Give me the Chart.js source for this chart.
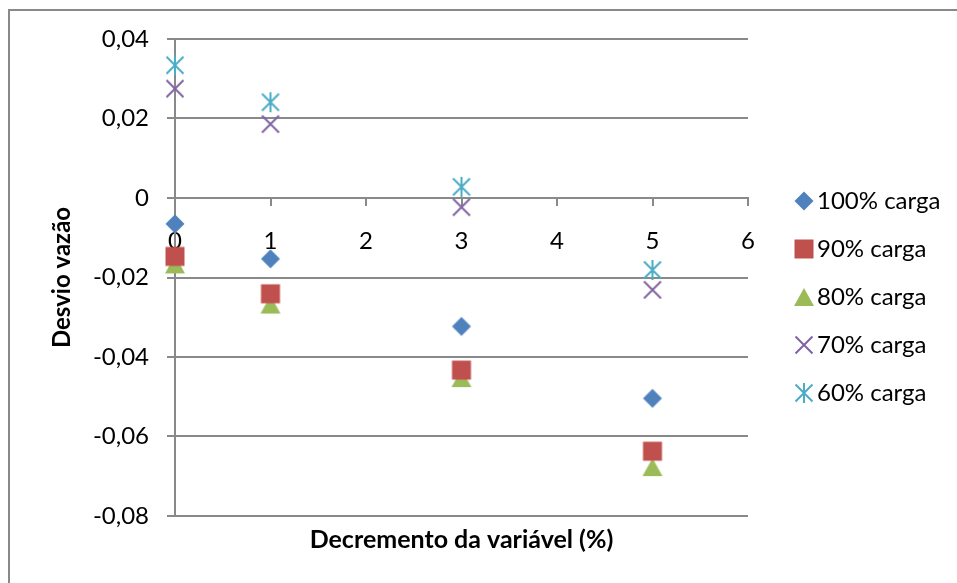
<!DOCTYPE html>
<html>
<head>
<meta charset="utf-8">
<script src="https://cdn.jsdelivr.net/npm/chart.js@4.4.1/dist/chart.umd.min.js"></script>
<style>
  html, body { margin: 0; padding: 0; background: #fff; }
  #wrap { position: relative; width: 957px; height: 583px; overflow: hidden; }
  #frame { position: absolute; left: 8px; top: 9px; width: 1000px; height: 1000px;
           border-left: 2px solid #898989; border-top: 2px solid #898989; pointer-events: none; }
  canvas { display: block; }
</style>
</head>
<body>
<div id="wrap">
  <canvas id="chart" width="957" height="583"></canvas>
  <div id="frame"></div>
</div>
<script>
// Decremento da variável (%) on the x axis
const decremento = [0, 1, 3, 5];

// Desvio de vazão por nível de carga
const carga100 = [-0.0065, -0.0153, -0.0323, -0.0504];
const carga90  = [-0.0147, -0.0241, -0.0433, -0.0637];
const carga80  = [-0.0167, -0.0268, -0.0453, -0.0677];
const carga70  = [0.0275, 0.0186, -0.0023, -0.0231];
const carga60  = [0.0334, 0.0241, 0.0028, -0.0181];

const seriesNames = ['100% carga', '90% carga', '80% carga', '70% carga', '60% carga'];

const xTicks = { min: 0, max: 6, step: 1 };
const yTicks = { min: -0.08, max: 0.04, step: 0.02 };

const FONT = 'Lato';

// Marker glyphs in the classic office palette
function marker(kind, color) {
  const s = 22, c = document.createElement('canvas');
  c.width = s; c.height = s;
  const g = c.getContext('2d');
  g.fillStyle = color; g.strokeStyle = color; g.lineWidth = 2;
  g.beginPath();
  if (kind === 'diamond') {
    g.moveTo(11, 1.5); g.lineTo(20.5, 11); g.lineTo(11, 20.5); g.lineTo(1.5, 11); g.closePath(); g.fill();
  } else if (kind === 'square') {
    g.rect(1.5, 1.5, 19, 19); g.fill();
  } else if (kind === 'triangle') {
    g.moveTo(11, 2); g.lineTo(21, 20); g.lineTo(1, 20); g.closePath(); g.fill();
  } else if (kind === 'x') {
    g.moveTo(2.5, 2.5); g.lineTo(19.5, 19.5); g.moveTo(19.5, 2.5); g.lineTo(2.5, 19.5); g.stroke();
  } else if (kind === 'star') {
    g.moveTo(2.5, 2.5); g.lineTo(19.5, 19.5); g.moveTo(19.5, 2.5); g.lineTo(2.5, 19.5);
    g.moveTo(11, 1); g.lineTo(11, 21); g.stroke();
  }
  return c;
}

const styles = [
  ['diamond', '#4F81BD'],
  ['square', '#C0504D'],
  ['triangle', '#9BBB59'],
  ['x', '#8064A2'],
  ['star', '#4BACC6']
];

const seriesValues = [carga100, carga90, carga80, carga70, carga60];

const datasets = seriesValues.map((vals, i) => ({
  label: seriesNames[i],
  data: decremento.map((x, j) => ({ x: x, y: vals[j] })),
  pointStyle: marker(styles[i][0], styles[i][1]),
  backgroundColor: styles[i][1],
  borderColor: styles[i][1],
  showLine: false,
  clip: false,
  xAxisID: 'x',
  yAxisID: 'y'
}));

const axisGray = '#898989';

function fmt(v) {
  if (Math.abs(v) < 1e-9) return '0';
  return v.toFixed(2).replace('.', ',');
}

// Give the legend box a fixed width so its labels sit at a steady column
const LEGEND_WIDTH = 178;
const legendWidthPlugin = {
  id: 'legendWidth',
  afterInit(chart) {
    const lg = chart.legend;
    if (!lg) return;
    const fit = lg.fit;
    lg.fit = function () {
      fit.call(this);
      this.width = LEGEND_WIDTH;
    };
  }
};

new Chart(document.getElementById('chart'), {
  type: 'scatter',
  data: { datasets: datasets },
  plugins: [legendWidthPlugin],
  options: {
    responsive: false,
    animation: false,
    devicePixelRatio: 1,
    layout: { padding: { left: 40, top: 39, right: 0, bottom: 28 } },
    plugins: {
      tooltip: { enabled: false },
      legend: {
        position: 'right',
        align: 'center',
        labels: {
          usePointStyle: true,
          boxWidth: 2,
          boxHeight: 24,
          padding: 24,
          color: '#000',
          font: { family: FONT, size: 24 }
        }
      }
    },
    scales: {
      x: {
        type: 'linear',
        position: 'bottom',
        min: xTicks.min, max: xTicks.max,
        ticks: { display: false },
        grid: { display: false },
        border: { display: false },
        title: {
          display: true,
          text: 'Decremento da variável (%)',
          color: '#000',
          font: { family: FONT, size: 25, weight: 'bold' },
          padding: { top: 0, bottom: 0 }
        },
        afterFit: s => { s.height = 39; }
      },
      xZero: {
        type: 'linear',
        axis: 'x',
        position: { y: 0 },
        min: xTicks.min, max: xTicks.max,
        ticks: { stepSize: xTicks.step, padding: 22, color: '#000', font: { family: FONT, size: 24 } },
        grid: { drawOnChartArea: false, drawTicks: true, tickLength: 7, color: axisGray, lineWidth: 2 },
        border: { display: true, color: axisGray, width: 2 }
      },
      y: {
        type: 'linear',
        position: 'left',
        min: yTicks.min, max: yTicks.max,
        ticks: { stepSize: yTicks.step, padding: 18, color: '#000', font: { family: FONT, size: 24 }, callback: v => fmt(v) },
        grid: { color: axisGray, lineWidth: 2, tickLength: 8 },
        border: { display: true, color: axisGray, width: 2 },
        title: {
          display: true,
          text: 'Desvio vazão',
          color: '#000',
          font: { family: FONT, size: 24, weight: 'bold' },
          padding: { top: 8, bottom: 0 }
        },
        afterFit: s => { s.width = 135; }
      },
      yGap: {
        type: 'linear',
        axis: 'y',
        position: 'right',
        ticks: { display: false },
        grid: { display: false },
        border: { display: false },
        afterFit: s => { s.width = 31; }
      }
    }
  }
});
</script>
</body>
</html>
